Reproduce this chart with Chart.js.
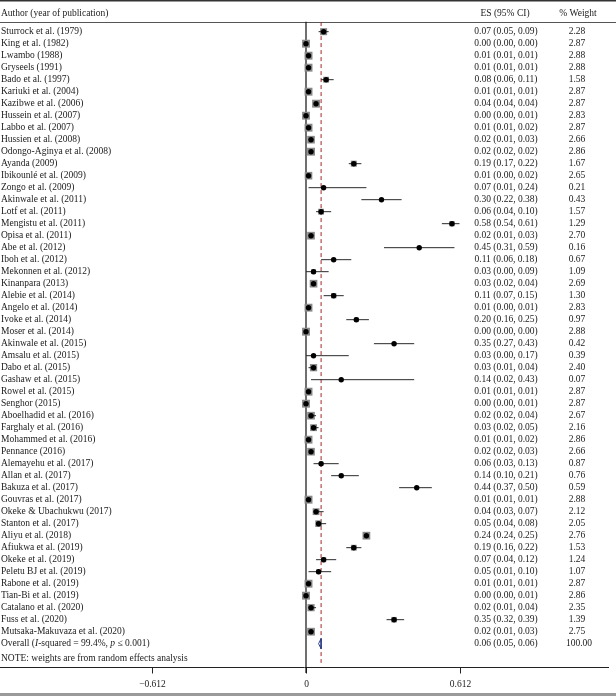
<!DOCTYPE html>
<html>
<head>
<meta charset="utf-8">
<script src="https://cdn.jsdelivr.net/npm/chart.js@4/dist/chart.umd.min.js"></script>
<style>
  html, body { margin: 0; padding: 0; background: #fff; }
  canvas { display: block; }
</style>
</head>
<body>
<canvas id="forest" width="616" height="696"></canvas>
<script>
// Forest plot data
const studies = [
  'Sturrock et al. (1979)', 'King et al. (1982)', 'Lwambo (1988)', 'Gryseels (1991)',
  'Bado et al. (1997)', 'Kariuki et al. (2004)', 'Kazibwe et al. (2006)', 'Hussein et al. (2007)',
  'Labbo et al. (2007)', 'Hussien et al. (2008)', 'Odongo-Aginya et al. (2008)', 'Ayanda (2009)',
  'Ibikounlé et al. (2009)', 'Zongo et al. (2009)', 'Akinwale et al. (2011)', 'Lotf et al. (2011)',
  'Mengistu et al. (2011)', 'Opisa et al. (2011)', 'Abe et al. (2012)', 'Iboh et al. (2012)',
  'Mekonnen et al. (2012)', 'Kinanpara (2013)', 'Alebie et al. (2014)', 'Angelo et al. (2014)',
  'Ivoke et al. (2014)', 'Moser et al. (2014)', 'Akinwale et al. (2015)', 'Amsalu et al. (2015)',
  'Dabo et al. (2015)', 'Gashaw et al. (2015)', 'Rowel et al. (2015)', 'Senghor (2015)',
  'Aboelhadid et al. (2016)', 'Farghaly et al. (2016)', 'Mohammed et al. (2016)', 'Pennance (2016)',
  'Alemayehu et al. (2017)', 'Allan et al. (2017)', 'Bakuza et al. (2017)', 'Gouvras et al. (2017)',
  'Okeke & Ubachukwu (2017)', 'Stanton et al. (2017)', 'Aliyu et al. (2018)', 'Afiukwa et al. (2019)',
  'Okeke et al. (2019)', 'Peletu BJ et al. (2019)', 'Rabone et al. (2019)', 'Tian-Bi et al. (2019)',
  'Catalano et al. (2020)', 'Fuss et al. (2020)', 'Mutsaka-Makuvaza et al. (2020)'
];
const es = [
  0.07, 0.00, 0.01, 0.01, 0.08, 0.01, 0.04, 0.00, 0.01, 0.02, 0.02, 0.19, 0.01,
  0.07, 0.30, 0.06, 0.58, 0.02, 0.45, 0.11, 0.03, 0.03, 0.11, 0.01, 0.20, 0.00,
  0.35, 0.03, 0.03, 0.14, 0.01, 0.00, 0.02, 0.03, 0.01, 0.02, 0.06, 0.14, 0.44,
  0.01, 0.04, 0.05, 0.24, 0.19, 0.07, 0.05, 0.01, 0.00, 0.02, 0.35, 0.02
];
const lo = [
  0.05, 0.00, 0.01, 0.01, 0.06, 0.01, 0.04, 0.00, 0.01, 0.01, 0.02, 0.17, 0.00,
  0.01, 0.22, 0.04, 0.54, 0.01, 0.31, 0.06, 0.00, 0.02, 0.07, 0.00, 0.16, 0.00,
  0.27, 0.00, 0.01, 0.02, 0.01, 0.00, 0.02, 0.02, 0.01, 0.02, 0.03, 0.10, 0.37,
  0.01, 0.03, 0.04, 0.24, 0.16, 0.04, 0.01, 0.01, 0.00, 0.01, 0.32, 0.01
];
const hi = [
  0.09, 0.00, 0.01, 0.01, 0.11, 0.01, 0.04, 0.01, 0.02, 0.03, 0.02, 0.22, 0.02,
  0.24, 0.38, 0.10, 0.61, 0.03, 0.59, 0.18, 0.09, 0.04, 0.15, 0.01, 0.25, 0.00,
  0.43, 0.17, 0.04, 0.43, 0.01, 0.01, 0.04, 0.05, 0.02, 0.03, 0.13, 0.21, 0.50,
  0.01, 0.07, 0.08, 0.25, 0.22, 0.12, 0.10, 0.01, 0.01, 0.04, 0.39, 0.03
];
const weights = [
  2.28, 2.87, 2.88, 2.88, 1.58, 2.87, 2.87, 2.83, 2.87, 2.66, 2.86, 1.67, 2.65,
  0.21, 0.43, 1.57, 1.29, 2.70, 0.16, 0.67, 1.09, 2.69, 1.30, 2.83, 0.97, 2.88,
  0.42, 0.39, 2.40, 0.07, 2.87, 2.87, 2.67, 2.16, 2.86, 2.66, 0.87, 0.76, 0.59,
  2.88, 2.12, 2.05, 2.76, 1.53, 1.24, 1.07, 2.87, 2.86, 2.35, 1.39, 2.75
];
const overall = { es: 0.06, lo: 0.05, hi: 0.06, weight: '100.00' };
const tickValues = [-0.612, 0, 0.612];
const tickLabels = ['\u22120.612', '0', '0.612'];

const FONT = '9.5px "Liberation Serif", "DejaVu Serif", serif';
const ITALIC = 'italic 9.5px "Liberation Serif", "DejaVu Serif", serif';
const nRows = studies.length;        // overall sits on row nRows
const fmt = v => v.toFixed(2);

// CI whiskers as one line dataset, broken with null points
const ciPoints = [];
studies.forEach((s, i) => {
  ciPoints.push({ x: lo[i], y: i }, { x: hi[i], y: i }, { x: null, y: null });
});

// weight boxes: side grows with sqrt(weight)
const boxRadius = weights.map(w => 5.6 * Math.sqrt(w / 2.88));

const diamond = [
  { x: overall.lo, y: nRows },
  { x: overall.es, y: nRows - 0.42 },
  { x: overall.hi, y: nRows },
  { x: overall.es, y: nRows + 0.42 },
  { x: overall.lo, y: nRows }
];

// table text, header, axis ticks
const tablePlugin = {
  id: 'tablePlugin',
  beforeDatasetsDraw(chart) {
    const { ctx, scales: { x, y } } = chart;
    const W = chart.width;
    ctx.save();
    // top border, header rule, bottom band
    ctx.strokeStyle = '#333';
    ctx.lineWidth = 1.5;
    ctx.beginPath(); ctx.moveTo(0, 0.75); ctx.lineTo(W, 0.75); ctx.stroke();
    ctx.strokeStyle = '#555';
    ctx.lineWidth = 1;
    const ruleY = Math.round(y.getPixelForValue(-0.82)) + 0.5;
    ctx.beginPath(); ctx.moveTo(0, ruleY); ctx.lineTo(W, ruleY); ctx.stroke();
    ctx.fillStyle = '#9a9a9a';
    ctx.fillRect(0, 693, W, 3);

    // x axis
    const axisY = Math.round(y.getPixelForValue(52.95)) + 0.5;
    ctx.strokeStyle = '#222';
    ctx.beginPath(); ctx.moveTo(0, axisY); ctx.lineTo(609, axisY); ctx.stroke();
    ctx.fillStyle = '#222';
    ctx.font = FONT;
    ctx.textAlign = 'center';
    ctx.textBaseline = 'middle';
    tickValues.forEach((v, i) => {
      const px = Math.round(x.getPixelForValue(v)) + 0.5;
      ctx.beginPath(); ctx.moveTo(px, axisY); ctx.lineTo(px, axisY + 6); ctx.stroke();
      ctx.fillText(tickLabels[i], px, y.getPixelForValue(54.4));
    });
    ctx.restore();
  },
  afterDatasetsDraw(chart) {
    const { ctx, scales: { y } } = chart;
    ctx.save();
    ctx.fillStyle = '#1a1a1a';
    ctx.font = FONT;
    ctx.textBaseline = 'middle';

    const headY = y.getPixelForValue(-1.55);
    ctx.textAlign = 'left';
    ctx.fillText('Author (year of publication)', 1, headY);
    ctx.textAlign = 'center';
    ctx.fillText('ES (95% CI)', 505, headY);
    ctx.fillText('% Weight', 578, headY);

    studies.forEach((s, i) => {
      const py = y.getPixelForValue(i);
      ctx.textAlign = 'left';
      ctx.fillText(s, 1, py);
      ctx.textAlign = 'center';
      ctx.fillText(fmt(es[i]) + ' (' + fmt(lo[i]) + ', ' + fmt(hi[i]) + ')', 506, py);
      ctx.fillText(fmt(weights[i]), 577, py);
    });

    // overall row with italic I and p
    const oy = y.getPixelForValue(nRows);
    const parts = [
      ['Overall (', FONT], ['I', ITALIC], ['-squared = 99.4%, ', FONT],
      ['p', ITALIC], [' \u2264 0.001)', FONT]
    ];
    let cx = 1;
    ctx.textAlign = 'left';
    parts.forEach(([t, f]) => {
      ctx.font = f;
      ctx.fillText(t, cx, oy);
      cx += ctx.measureText(t).width;
    });
    ctx.font = FONT;
    ctx.textAlign = 'center';
    ctx.fillText(fmt(overall.es) + ' (' + fmt(overall.lo) + ', ' + fmt(overall.hi) + ')', 506, oy);
    ctx.fillText(overall.weight, 579, oy);

    ctx.textAlign = 'left';
    ctx.fillText('NOTE: weights are from random effects analysis', 1, y.getPixelForValue(nRows + 1.2));
    ctx.restore();
  }
};

new Chart(document.getElementById('forest'), {
  type: 'scatter',
  data: {
    datasets: [
      {
        // point estimates
        data: es.map((v, i) => ({ x: v, y: i })),
        pointStyle: 'circle',
        pointRadius: 2.7,
        backgroundColor: '#000',
        borderWidth: 0,
        order: 0
      },
      {
        // weight boxes
        data: es.map((v, i) => ({ x: v, y: i })),
        pointStyle: 'rect',
        pointRadius: boxRadius,
        backgroundColor: '#888',
        borderWidth: 0,
        order: 2
      },
      {
        // confidence intervals
        data: ciPoints,
        showLine: true,
        spanGaps: false,
        pointRadius: 0,
        borderColor: '#2a2a2a',
        borderWidth: 1,
        order: 1
      },
      {
        // overall pooled estimate
        data: diamond,
        showLine: true,
        pointRadius: 0,
        borderColor: '#2c3e8c',
        borderWidth: 1,
        order: 0
      },
      {
        // overall effect reference line
        data: [{ x: overall.es, y: -0.8 }, { x: overall.es, y: 52.6 }],
        showLine: true,
        pointRadius: 0,
        borderColor: '#a3262c',
        borderWidth: 1,
        borderDash: [4, 3],
        order: 3
      },
      {
        // null line
        data: [{ x: 0, y: -0.82 }, { x: 0, y: 53.45 }],
        showLine: true,
        pointRadius: 0,
        borderColor: '#111',
        borderWidth: 1.2,
        order: 4
      }
    ]
  },
  options: {
    responsive: false,
    animation: false,
    layout: { padding: 0, autoPadding: false },
    plugins: {
      legend: { display: false },
      tooltip: { enabled: false }
    },
    scales: {
      x: { type: 'linear', display: false, min: -306 / 251.63, max: 310 / 251.63 },
      y: { type: 'linear', display: false, min: -2.64, max: 55.36, reverse: true }
    }
  },
  plugins: [tablePlugin]
});
</script>
</body>
</html>
